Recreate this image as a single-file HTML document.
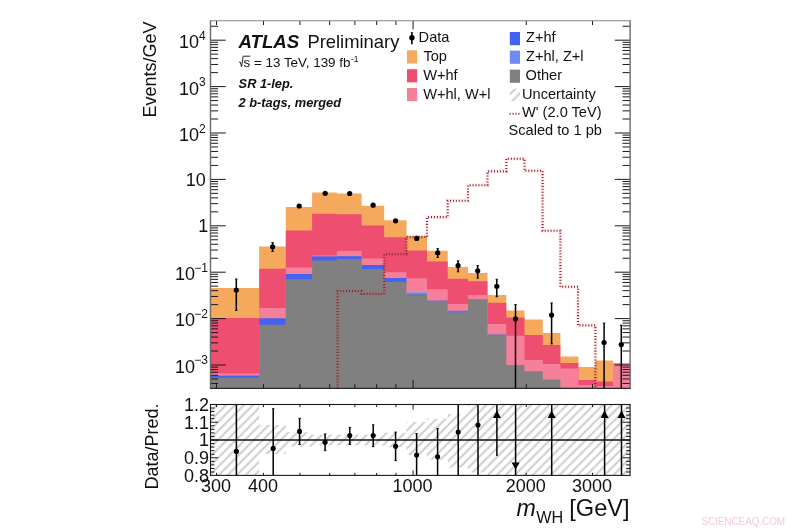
<!DOCTYPE html>
<html><head><meta charset="utf-8"><title>m_WH distribution</title>
<style>html,body{margin:0;padding:0;background:#fff;}body{width:800px;height:530px;overflow:hidden;}svg{display:block;will-change:transform;}text{font-family:"Liberation Sans",sans-serif;fill:#111;}</style></head><body>
<svg width="800" height="530" viewBox="0 0 800 530">
<rect x="0" y="0" width="800" height="530" fill="#ffffff"/>
<defs>
<pattern id="hatch" width="8.97" height="8.97" patternUnits="userSpaceOnUse" patternTransform="translate(3.2,0)"><path d="M-8.97,8.97 L8.97,-8.97 M-8.97,17.94 L17.94,-8.97 M0,17.94 L17.94,0" stroke="#c8c8c8" stroke-width="1.9" fill="none"/></pattern>
<clipPath id="clipMain"><rect x="210.5" y="20.8" width="419.6" height="367.59999999999997"/></clipPath>
<clipPath id="clipRat"><rect x="210.5" y="404.5" width="419.6" height="70.89999999999998"/></clipPath>
</defs>
<g>
<path d="M210.5,388.4 L210.5,288.0 L259.2,288.0 L259.2,246.4 L285.8,246.4 L285.8,207.0 L312.1,207.0 L312.1,192.4 L336.8,192.4 L336.8,193.5 L361.6,193.5 L361.6,205.8 L384.2,205.8 L384.2,220.3 L406.5,220.3 L406.5,236.3 L427.0,236.3 L427.0,250.8 L447.7,250.8 L447.7,266.9 L468.0,266.9 L468.0,273.1 L487.5,273.1 L487.5,294.9 L506.3,294.9 L506.3,310.4 L524.5,310.4 L524.5,319.4 L542.8,319.4 L542.8,333.0 L560.4,333.0 L560.4,356.6 L578.4,356.6 L578.4,367.0 L595.3,367.0 L595.3,360.5 L613.0,360.5 L613.0,363.6 L630.2,363.6 L630.2,388.4 Z" fill="#f4a95c"/>
<path d="M210.5,388.4 L210.5,318.1 L259.2,318.1 L259.2,268.8 L285.8,268.8 L285.8,230.6 L312.1,230.6 L312.1,213.7 L336.8,213.7 L336.8,214.2 L361.6,214.2 L361.6,225.6 L384.2,225.6 L384.2,237.3 L406.5,237.3 L406.5,250.5 L427.0,250.5 L427.0,261.4 L447.7,261.4 L447.7,278.8 L468.0,278.8 L468.0,281.2 L487.5,281.2 L487.5,302.8 L506.3,302.8 L506.3,317.4 L524.5,317.4 L524.5,335.0 L542.8,335.0 L542.8,345.0 L560.4,345.0 L560.4,363.0 L578.4,363.0 L578.4,380.0 L595.3,380.0 L595.3,381.5 L613.0,381.5 L613.0,363.6 L630.2,363.6 L630.2,388.4 Z" fill="#ee4f70"/>
<path d="M210.5,388.4 L210.5,373.6 L259.2,373.6 L259.2,307.9 L285.8,307.9 L285.8,267.5 L312.1,267.5 L312.1,255.4 L336.8,255.4 L336.8,250.9 L361.6,250.9 L361.6,258.5 L384.2,258.5 L384.2,272.2 L406.5,272.2 L406.5,278.2 L427.0,278.2 L427.0,289.2 L447.7,289.2 L447.7,304.0 L468.0,304.0 L468.0,294.9 L487.5,294.9 L487.5,324.0 L506.3,324.0 L506.3,335.7 L524.5,335.7 L524.5,360.0 L542.8,360.0 L542.8,364.0 L560.4,364.0 L560.4,368.6 L578.4,368.6 L578.4,385.0 L595.3,385.0 L595.3,386.0 L613.0,386.0 L613.0,364.6 L630.2,364.6 L630.2,388.4 Z" fill="#f6809a"/>
<rect x="210.5" y="375.6" width="48.7" height="4.2" fill="#4461ef"/>
<rect x="259.2" y="318.3" width="26.6" height="8.5" fill="#4461ef"/>
<rect x="285.8" y="274.0" width="26.3" height="7.2" fill="#4461ef"/>
<rect x="312.1" y="256.4" width="24.7" height="6.2" fill="#4461ef"/>
<rect x="336.8" y="256.2" width="24.8" height="4.9" fill="#4461ef"/>
<rect x="361.6" y="265.0" width="22.6" height="6.1" fill="#4461ef"/>
<rect x="384.2" y="278.0" width="22.3" height="5.8" fill="#4461ef"/>
<rect x="406.5" y="292.0" width="20.5" height="6" fill="#a090d8"/>
<rect x="406.5" y="293.6" width="20.5" height="4.2" fill="#6a78b4"/>
<rect x="427.0" y="300.6" width="20.7" height="2.4" fill="#4461ef"/>
<rect x="447.7" y="310.7" width="20.3" height="4.5" fill="#6a78b4"/>
<rect x="487.5" y="334.4" width="18.8" height="3.0" fill="#6a78b4"/>
<path d="M210.5,388.4 L210.5,377.8 L259.2,377.8 L259.2,324.8 L285.8,324.8 L285.8,279.2 L312.1,279.2 L312.1,260.6 L336.8,260.6 L336.8,259.1 L361.6,259.1 L361.6,269.1 L384.2,269.1 L384.2,281.8 L406.5,281.8 L406.5,295.8 L427.0,295.8 L427.0,301.0 L447.7,301.0 L447.7,313.2 L468.0,313.2 L468.0,299.2 L487.5,299.2 L487.5,335.4 L506.3,335.4 L506.3,364.9 L524.5,364.9 L524.5,371.2 L542.8,371.2 L542.8,379.4 L560.4,379.4 L560.4,388.4 L578.4,388.4 L578.4,388.4 L595.3,388.4 L595.3,388.4 L613.0,388.4 L613.0,388.4 L630.2,388.4 L630.2,388.4 Z" fill="#808080"/>
</g>
<g>
<line x1="210.50" y1="383.46" x2="218.10" y2="383.46" stroke="#1a1a1a" stroke-width="1.0" />
<line x1="630.10" y1="383.46" x2="622.50" y2="383.46" stroke="#1a1a1a" stroke-width="1.0" />
<line x1="210.50" y1="378.97" x2="218.10" y2="378.97" stroke="#1a1a1a" stroke-width="1.0" />
<line x1="630.10" y1="378.97" x2="622.50" y2="378.97" stroke="#1a1a1a" stroke-width="1.0" />
<line x1="210.50" y1="375.29" x2="218.10" y2="375.29" stroke="#1a1a1a" stroke-width="1.0" />
<line x1="630.10" y1="375.29" x2="622.50" y2="375.29" stroke="#1a1a1a" stroke-width="1.0" />
<line x1="210.50" y1="372.19" x2="218.10" y2="372.19" stroke="#1a1a1a" stroke-width="1.0" />
<line x1="630.10" y1="372.19" x2="622.50" y2="372.19" stroke="#1a1a1a" stroke-width="1.0" />
<line x1="210.50" y1="369.50" x2="218.10" y2="369.50" stroke="#1a1a1a" stroke-width="1.0" />
<line x1="630.10" y1="369.50" x2="622.50" y2="369.50" stroke="#1a1a1a" stroke-width="1.0" />
<line x1="210.50" y1="367.12" x2="218.10" y2="367.12" stroke="#1a1a1a" stroke-width="1.0" />
<line x1="630.10" y1="367.12" x2="622.50" y2="367.12" stroke="#1a1a1a" stroke-width="1.0" />
<line x1="210.50" y1="365.00" x2="225.80" y2="365.00" stroke="#1a1a1a" stroke-width="1.0" />
<line x1="630.10" y1="365.00" x2="614.80" y2="365.00" stroke="#1a1a1a" stroke-width="1.0" />
<line x1="210.50" y1="351.03" x2="218.10" y2="351.03" stroke="#1a1a1a" stroke-width="1.0" />
<line x1="630.10" y1="351.03" x2="622.50" y2="351.03" stroke="#1a1a1a" stroke-width="1.0" />
<line x1="210.50" y1="342.86" x2="218.10" y2="342.86" stroke="#1a1a1a" stroke-width="1.0" />
<line x1="630.10" y1="342.86" x2="622.50" y2="342.86" stroke="#1a1a1a" stroke-width="1.0" />
<line x1="210.50" y1="337.06" x2="218.10" y2="337.06" stroke="#1a1a1a" stroke-width="1.0" />
<line x1="630.10" y1="337.06" x2="622.50" y2="337.06" stroke="#1a1a1a" stroke-width="1.0" />
<line x1="210.50" y1="332.57" x2="218.10" y2="332.57" stroke="#1a1a1a" stroke-width="1.0" />
<line x1="630.10" y1="332.57" x2="622.50" y2="332.57" stroke="#1a1a1a" stroke-width="1.0" />
<line x1="210.50" y1="328.89" x2="218.10" y2="328.89" stroke="#1a1a1a" stroke-width="1.0" />
<line x1="630.10" y1="328.89" x2="622.50" y2="328.89" stroke="#1a1a1a" stroke-width="1.0" />
<line x1="210.50" y1="325.79" x2="218.10" y2="325.79" stroke="#1a1a1a" stroke-width="1.0" />
<line x1="630.10" y1="325.79" x2="622.50" y2="325.79" stroke="#1a1a1a" stroke-width="1.0" />
<line x1="210.50" y1="323.10" x2="218.10" y2="323.10" stroke="#1a1a1a" stroke-width="1.0" />
<line x1="630.10" y1="323.10" x2="622.50" y2="323.10" stroke="#1a1a1a" stroke-width="1.0" />
<line x1="210.50" y1="320.72" x2="218.10" y2="320.72" stroke="#1a1a1a" stroke-width="1.0" />
<line x1="630.10" y1="320.72" x2="622.50" y2="320.72" stroke="#1a1a1a" stroke-width="1.0" />
<line x1="210.50" y1="318.60" x2="225.80" y2="318.60" stroke="#1a1a1a" stroke-width="1.0" />
<line x1="630.10" y1="318.60" x2="614.80" y2="318.60" stroke="#1a1a1a" stroke-width="1.0" />
<line x1="210.50" y1="304.63" x2="218.10" y2="304.63" stroke="#1a1a1a" stroke-width="1.0" />
<line x1="630.10" y1="304.63" x2="622.50" y2="304.63" stroke="#1a1a1a" stroke-width="1.0" />
<line x1="210.50" y1="296.46" x2="218.10" y2="296.46" stroke="#1a1a1a" stroke-width="1.0" />
<line x1="630.10" y1="296.46" x2="622.50" y2="296.46" stroke="#1a1a1a" stroke-width="1.0" />
<line x1="210.50" y1="290.66" x2="218.10" y2="290.66" stroke="#1a1a1a" stroke-width="1.0" />
<line x1="630.10" y1="290.66" x2="622.50" y2="290.66" stroke="#1a1a1a" stroke-width="1.0" />
<line x1="210.50" y1="286.17" x2="218.10" y2="286.17" stroke="#1a1a1a" stroke-width="1.0" />
<line x1="630.10" y1="286.17" x2="622.50" y2="286.17" stroke="#1a1a1a" stroke-width="1.0" />
<line x1="210.50" y1="282.49" x2="218.10" y2="282.49" stroke="#1a1a1a" stroke-width="1.0" />
<line x1="630.10" y1="282.49" x2="622.50" y2="282.49" stroke="#1a1a1a" stroke-width="1.0" />
<line x1="210.50" y1="279.39" x2="218.10" y2="279.39" stroke="#1a1a1a" stroke-width="1.0" />
<line x1="630.10" y1="279.39" x2="622.50" y2="279.39" stroke="#1a1a1a" stroke-width="1.0" />
<line x1="210.50" y1="276.70" x2="218.10" y2="276.70" stroke="#1a1a1a" stroke-width="1.0" />
<line x1="630.10" y1="276.70" x2="622.50" y2="276.70" stroke="#1a1a1a" stroke-width="1.0" />
<line x1="210.50" y1="274.32" x2="218.10" y2="274.32" stroke="#1a1a1a" stroke-width="1.0" />
<line x1="630.10" y1="274.32" x2="622.50" y2="274.32" stroke="#1a1a1a" stroke-width="1.0" />
<line x1="210.50" y1="272.20" x2="225.80" y2="272.20" stroke="#1a1a1a" stroke-width="1.0" />
<line x1="630.10" y1="272.20" x2="614.80" y2="272.20" stroke="#1a1a1a" stroke-width="1.0" />
<line x1="210.50" y1="258.23" x2="218.10" y2="258.23" stroke="#1a1a1a" stroke-width="1.0" />
<line x1="630.10" y1="258.23" x2="622.50" y2="258.23" stroke="#1a1a1a" stroke-width="1.0" />
<line x1="210.50" y1="250.06" x2="218.10" y2="250.06" stroke="#1a1a1a" stroke-width="1.0" />
<line x1="630.10" y1="250.06" x2="622.50" y2="250.06" stroke="#1a1a1a" stroke-width="1.0" />
<line x1="210.50" y1="244.26" x2="218.10" y2="244.26" stroke="#1a1a1a" stroke-width="1.0" />
<line x1="630.10" y1="244.26" x2="622.50" y2="244.26" stroke="#1a1a1a" stroke-width="1.0" />
<line x1="210.50" y1="239.77" x2="218.10" y2="239.77" stroke="#1a1a1a" stroke-width="1.0" />
<line x1="630.10" y1="239.77" x2="622.50" y2="239.77" stroke="#1a1a1a" stroke-width="1.0" />
<line x1="210.50" y1="236.09" x2="218.10" y2="236.09" stroke="#1a1a1a" stroke-width="1.0" />
<line x1="630.10" y1="236.09" x2="622.50" y2="236.09" stroke="#1a1a1a" stroke-width="1.0" />
<line x1="210.50" y1="232.99" x2="218.10" y2="232.99" stroke="#1a1a1a" stroke-width="1.0" />
<line x1="630.10" y1="232.99" x2="622.50" y2="232.99" stroke="#1a1a1a" stroke-width="1.0" />
<line x1="210.50" y1="230.30" x2="218.10" y2="230.30" stroke="#1a1a1a" stroke-width="1.0" />
<line x1="630.10" y1="230.30" x2="622.50" y2="230.30" stroke="#1a1a1a" stroke-width="1.0" />
<line x1="210.50" y1="227.92" x2="218.10" y2="227.92" stroke="#1a1a1a" stroke-width="1.0" />
<line x1="630.10" y1="227.92" x2="622.50" y2="227.92" stroke="#1a1a1a" stroke-width="1.0" />
<line x1="210.50" y1="225.80" x2="225.80" y2="225.80" stroke="#1a1a1a" stroke-width="1.0" />
<line x1="630.10" y1="225.80" x2="614.80" y2="225.80" stroke="#1a1a1a" stroke-width="1.0" />
<line x1="210.50" y1="211.83" x2="218.10" y2="211.83" stroke="#1a1a1a" stroke-width="1.0" />
<line x1="630.10" y1="211.83" x2="622.50" y2="211.83" stroke="#1a1a1a" stroke-width="1.0" />
<line x1="210.50" y1="203.66" x2="218.10" y2="203.66" stroke="#1a1a1a" stroke-width="1.0" />
<line x1="630.10" y1="203.66" x2="622.50" y2="203.66" stroke="#1a1a1a" stroke-width="1.0" />
<line x1="210.50" y1="197.86" x2="218.10" y2="197.86" stroke="#1a1a1a" stroke-width="1.0" />
<line x1="630.10" y1="197.86" x2="622.50" y2="197.86" stroke="#1a1a1a" stroke-width="1.0" />
<line x1="210.50" y1="193.37" x2="218.10" y2="193.37" stroke="#1a1a1a" stroke-width="1.0" />
<line x1="630.10" y1="193.37" x2="622.50" y2="193.37" stroke="#1a1a1a" stroke-width="1.0" />
<line x1="210.50" y1="189.69" x2="218.10" y2="189.69" stroke="#1a1a1a" stroke-width="1.0" />
<line x1="630.10" y1="189.69" x2="622.50" y2="189.69" stroke="#1a1a1a" stroke-width="1.0" />
<line x1="210.50" y1="186.59" x2="218.10" y2="186.59" stroke="#1a1a1a" stroke-width="1.0" />
<line x1="630.10" y1="186.59" x2="622.50" y2="186.59" stroke="#1a1a1a" stroke-width="1.0" />
<line x1="210.50" y1="183.90" x2="218.10" y2="183.90" stroke="#1a1a1a" stroke-width="1.0" />
<line x1="630.10" y1="183.90" x2="622.50" y2="183.90" stroke="#1a1a1a" stroke-width="1.0" />
<line x1="210.50" y1="181.52" x2="218.10" y2="181.52" stroke="#1a1a1a" stroke-width="1.0" />
<line x1="630.10" y1="181.52" x2="622.50" y2="181.52" stroke="#1a1a1a" stroke-width="1.0" />
<line x1="210.50" y1="179.40" x2="225.80" y2="179.40" stroke="#1a1a1a" stroke-width="1.0" />
<line x1="630.10" y1="179.40" x2="614.80" y2="179.40" stroke="#1a1a1a" stroke-width="1.0" />
<line x1="210.50" y1="165.43" x2="218.10" y2="165.43" stroke="#1a1a1a" stroke-width="1.0" />
<line x1="630.10" y1="165.43" x2="622.50" y2="165.43" stroke="#1a1a1a" stroke-width="1.0" />
<line x1="210.50" y1="157.26" x2="218.10" y2="157.26" stroke="#1a1a1a" stroke-width="1.0" />
<line x1="630.10" y1="157.26" x2="622.50" y2="157.26" stroke="#1a1a1a" stroke-width="1.0" />
<line x1="210.50" y1="151.46" x2="218.10" y2="151.46" stroke="#1a1a1a" stroke-width="1.0" />
<line x1="630.10" y1="151.46" x2="622.50" y2="151.46" stroke="#1a1a1a" stroke-width="1.0" />
<line x1="210.50" y1="146.97" x2="218.10" y2="146.97" stroke="#1a1a1a" stroke-width="1.0" />
<line x1="630.10" y1="146.97" x2="622.50" y2="146.97" stroke="#1a1a1a" stroke-width="1.0" />
<line x1="210.50" y1="143.29" x2="218.10" y2="143.29" stroke="#1a1a1a" stroke-width="1.0" />
<line x1="630.10" y1="143.29" x2="622.50" y2="143.29" stroke="#1a1a1a" stroke-width="1.0" />
<line x1="210.50" y1="140.19" x2="218.10" y2="140.19" stroke="#1a1a1a" stroke-width="1.0" />
<line x1="630.10" y1="140.19" x2="622.50" y2="140.19" stroke="#1a1a1a" stroke-width="1.0" />
<line x1="210.50" y1="137.50" x2="218.10" y2="137.50" stroke="#1a1a1a" stroke-width="1.0" />
<line x1="630.10" y1="137.50" x2="622.50" y2="137.50" stroke="#1a1a1a" stroke-width="1.0" />
<line x1="210.50" y1="135.12" x2="218.10" y2="135.12" stroke="#1a1a1a" stroke-width="1.0" />
<line x1="630.10" y1="135.12" x2="622.50" y2="135.12" stroke="#1a1a1a" stroke-width="1.0" />
<line x1="210.50" y1="133.00" x2="225.80" y2="133.00" stroke="#1a1a1a" stroke-width="1.0" />
<line x1="630.10" y1="133.00" x2="614.80" y2="133.00" stroke="#1a1a1a" stroke-width="1.0" />
<line x1="210.50" y1="119.03" x2="218.10" y2="119.03" stroke="#1a1a1a" stroke-width="1.0" />
<line x1="630.10" y1="119.03" x2="622.50" y2="119.03" stroke="#1a1a1a" stroke-width="1.0" />
<line x1="210.50" y1="110.86" x2="218.10" y2="110.86" stroke="#1a1a1a" stroke-width="1.0" />
<line x1="630.10" y1="110.86" x2="622.50" y2="110.86" stroke="#1a1a1a" stroke-width="1.0" />
<line x1="210.50" y1="105.06" x2="218.10" y2="105.06" stroke="#1a1a1a" stroke-width="1.0" />
<line x1="630.10" y1="105.06" x2="622.50" y2="105.06" stroke="#1a1a1a" stroke-width="1.0" />
<line x1="210.50" y1="100.57" x2="218.10" y2="100.57" stroke="#1a1a1a" stroke-width="1.0" />
<line x1="630.10" y1="100.57" x2="622.50" y2="100.57" stroke="#1a1a1a" stroke-width="1.0" />
<line x1="210.50" y1="96.89" x2="218.10" y2="96.89" stroke="#1a1a1a" stroke-width="1.0" />
<line x1="630.10" y1="96.89" x2="622.50" y2="96.89" stroke="#1a1a1a" stroke-width="1.0" />
<line x1="210.50" y1="93.79" x2="218.10" y2="93.79" stroke="#1a1a1a" stroke-width="1.0" />
<line x1="630.10" y1="93.79" x2="622.50" y2="93.79" stroke="#1a1a1a" stroke-width="1.0" />
<line x1="210.50" y1="91.10" x2="218.10" y2="91.10" stroke="#1a1a1a" stroke-width="1.0" />
<line x1="630.10" y1="91.10" x2="622.50" y2="91.10" stroke="#1a1a1a" stroke-width="1.0" />
<line x1="210.50" y1="88.72" x2="218.10" y2="88.72" stroke="#1a1a1a" stroke-width="1.0" />
<line x1="630.10" y1="88.72" x2="622.50" y2="88.72" stroke="#1a1a1a" stroke-width="1.0" />
<line x1="210.50" y1="86.60" x2="225.80" y2="86.60" stroke="#1a1a1a" stroke-width="1.0" />
<line x1="630.10" y1="86.60" x2="614.80" y2="86.60" stroke="#1a1a1a" stroke-width="1.0" />
<line x1="210.50" y1="72.63" x2="218.10" y2="72.63" stroke="#1a1a1a" stroke-width="1.0" />
<line x1="630.10" y1="72.63" x2="622.50" y2="72.63" stroke="#1a1a1a" stroke-width="1.0" />
<line x1="210.50" y1="64.46" x2="218.10" y2="64.46" stroke="#1a1a1a" stroke-width="1.0" />
<line x1="630.10" y1="64.46" x2="622.50" y2="64.46" stroke="#1a1a1a" stroke-width="1.0" />
<line x1="210.50" y1="58.66" x2="218.10" y2="58.66" stroke="#1a1a1a" stroke-width="1.0" />
<line x1="630.10" y1="58.66" x2="622.50" y2="58.66" stroke="#1a1a1a" stroke-width="1.0" />
<line x1="210.50" y1="54.17" x2="218.10" y2="54.17" stroke="#1a1a1a" stroke-width="1.0" />
<line x1="630.10" y1="54.17" x2="622.50" y2="54.17" stroke="#1a1a1a" stroke-width="1.0" />
<line x1="210.50" y1="50.49" x2="218.10" y2="50.49" stroke="#1a1a1a" stroke-width="1.0" />
<line x1="630.10" y1="50.49" x2="622.50" y2="50.49" stroke="#1a1a1a" stroke-width="1.0" />
<line x1="210.50" y1="47.39" x2="218.10" y2="47.39" stroke="#1a1a1a" stroke-width="1.0" />
<line x1="630.10" y1="47.39" x2="622.50" y2="47.39" stroke="#1a1a1a" stroke-width="1.0" />
<line x1="210.50" y1="44.70" x2="218.10" y2="44.70" stroke="#1a1a1a" stroke-width="1.0" />
<line x1="630.10" y1="44.70" x2="622.50" y2="44.70" stroke="#1a1a1a" stroke-width="1.0" />
<line x1="210.50" y1="42.32" x2="218.10" y2="42.32" stroke="#1a1a1a" stroke-width="1.0" />
<line x1="630.10" y1="42.32" x2="622.50" y2="42.32" stroke="#1a1a1a" stroke-width="1.0" />
<line x1="210.50" y1="40.20" x2="225.80" y2="40.20" stroke="#1a1a1a" stroke-width="1.0" />
<line x1="630.10" y1="40.20" x2="614.80" y2="40.20" stroke="#1a1a1a" stroke-width="1.0" />
<line x1="210.50" y1="26.23" x2="218.10" y2="26.23" stroke="#1a1a1a" stroke-width="1.0" />
<line x1="630.10" y1="26.23" x2="622.50" y2="26.23" stroke="#1a1a1a" stroke-width="1.0" />
<line x1="216.50" y1="388.40" x2="216.50" y2="384.20" stroke="#1a1a1a" stroke-width="1.0" />
<line x1="216.50" y1="20.80" x2="216.50" y2="25.00" stroke="#1a1a1a" stroke-width="1.0" />
<line x1="263.47" y1="388.40" x2="263.47" y2="384.20" stroke="#1a1a1a" stroke-width="1.0" />
<line x1="263.47" y1="20.80" x2="263.47" y2="25.00" stroke="#1a1a1a" stroke-width="1.0" />
<line x1="299.91" y1="388.40" x2="299.91" y2="384.20" stroke="#1a1a1a" stroke-width="1.0" />
<line x1="299.91" y1="20.80" x2="299.91" y2="25.00" stroke="#1a1a1a" stroke-width="1.0" />
<line x1="329.68" y1="388.40" x2="329.68" y2="384.20" stroke="#1a1a1a" stroke-width="1.0" />
<line x1="329.68" y1="20.80" x2="329.68" y2="25.00" stroke="#1a1a1a" stroke-width="1.0" />
<line x1="354.86" y1="388.40" x2="354.86" y2="384.20" stroke="#1a1a1a" stroke-width="1.0" />
<line x1="354.86" y1="20.80" x2="354.86" y2="25.00" stroke="#1a1a1a" stroke-width="1.0" />
<line x1="376.66" y1="388.40" x2="376.66" y2="384.20" stroke="#1a1a1a" stroke-width="1.0" />
<line x1="376.66" y1="20.80" x2="376.66" y2="25.00" stroke="#1a1a1a" stroke-width="1.0" />
<line x1="395.90" y1="388.40" x2="395.90" y2="384.20" stroke="#1a1a1a" stroke-width="1.0" />
<line x1="395.90" y1="20.80" x2="395.90" y2="25.00" stroke="#1a1a1a" stroke-width="1.0" />
<line x1="413.10" y1="388.40" x2="413.10" y2="379.90" stroke="#1a1a1a" stroke-width="1.0" />
<line x1="413.10" y1="20.80" x2="413.10" y2="29.30" stroke="#1a1a1a" stroke-width="1.0" />
<line x1="526.29" y1="388.40" x2="526.29" y2="384.20" stroke="#1a1a1a" stroke-width="1.0" />
<line x1="526.29" y1="20.80" x2="526.29" y2="25.00" stroke="#1a1a1a" stroke-width="1.0" />
<line x1="592.50" y1="388.40" x2="592.50" y2="384.20" stroke="#1a1a1a" stroke-width="1.0" />
<line x1="592.50" y1="20.80" x2="592.50" y2="25.00" stroke="#1a1a1a" stroke-width="1.0" />
</g>
<polyline points="337.6,388.4 337.6,291.0 361.6,291.0 361.6,293.9 384.2,293.9 384.2,254.2 406.5,254.2 406.5,236.9 427.0,236.9 427.0,217.1 447.7,217.1 447.7,200.8 468.0,200.8 468.0,185.2 487.5,185.2 487.5,171.4 506.3,171.4 506.3,158.8 524.5,158.8 524.5,170.8 542.6,170.8 542.6,230.8 560.4,230.8 560.4,286.8 578.0,286.8 578.0,325.4 595.4,325.4 595.4,388.4" fill="none" stroke="#ff2a3a" stroke-opacity="0.07" stroke-width="4.5" stroke-linejoin="miter"/>
<polyline points="337.6,388.4 337.6,291.0 361.6,291.0 361.6,293.9 384.2,293.9 384.2,254.2 406.5,254.2 406.5,236.9 427.0,236.9 427.0,217.1 447.7,217.1 447.7,200.8 468.0,200.8 468.0,185.2 487.5,185.2 487.5,171.4 506.3,171.4 506.3,158.8 524.5,158.8 524.5,170.8 542.6,170.8 542.6,230.8 560.4,230.8 560.4,286.8 578.0,286.8 578.0,325.4 595.4,325.4 595.4,388.4" fill="none" stroke="#8a2830" stroke-width="2.1" stroke-dasharray="1.05 1.89" stroke-linejoin="miter"/>
<g clip-path="url(#clipMain)">
<line x1="236.30" y1="279.00" x2="236.30" y2="310.40" stroke="#000" stroke-width="1.5" />
<line x1="235.05" y1="279.00" x2="237.55" y2="279.00" stroke="#000" stroke-width="0.9" />
<line x1="235.05" y1="310.40" x2="237.55" y2="310.40" stroke="#000" stroke-width="0.9" />
<circle cx="236.3" cy="290.0" r="2.6" fill="#000"/>
<line x1="272.60" y1="242.60" x2="272.60" y2="251.40" stroke="#000" stroke-width="1.5" />
<line x1="271.35" y1="242.60" x2="273.85" y2="242.60" stroke="#000" stroke-width="0.9" />
<line x1="271.35" y1="251.40" x2="273.85" y2="251.40" stroke="#000" stroke-width="0.9" />
<circle cx="272.6" cy="246.8" r="2.6" fill="#000"/>
<circle cx="299.2" cy="206.0" r="2.6" fill="#000"/>
<circle cx="325.2" cy="193.3" r="2.6" fill="#000"/>
<circle cx="349.7" cy="193.5" r="2.6" fill="#000"/>
<circle cx="373.1" cy="205.2" r="2.6" fill="#000"/>
<circle cx="395.6" cy="220.8" r="2.6" fill="#000"/>
<circle cx="416.7" cy="238.4" r="2.6" fill="#000"/>
<line x1="437.70" y1="248.60" x2="437.70" y2="257.50" stroke="#000" stroke-width="1.5" />
<line x1="436.45" y1="248.60" x2="438.95" y2="248.60" stroke="#000" stroke-width="0.9" />
<line x1="436.45" y1="257.50" x2="438.95" y2="257.50" stroke="#000" stroke-width="0.9" />
<circle cx="437.7" cy="252.9" r="2.6" fill="#000"/>
<line x1="458.10" y1="260.80" x2="458.10" y2="271.80" stroke="#000" stroke-width="1.5" />
<line x1="456.85" y1="260.80" x2="459.35" y2="260.80" stroke="#000" stroke-width="0.9" />
<line x1="456.85" y1="271.80" x2="459.35" y2="271.80" stroke="#000" stroke-width="0.9" />
<circle cx="458.1" cy="265.6" r="2.6" fill="#000"/>
<line x1="477.70" y1="265.60" x2="477.70" y2="278.20" stroke="#000" stroke-width="1.5" />
<line x1="476.45" y1="265.60" x2="478.95" y2="265.60" stroke="#000" stroke-width="0.9" />
<line x1="476.45" y1="278.20" x2="478.95" y2="278.20" stroke="#000" stroke-width="0.9" />
<circle cx="477.7" cy="270.8" r="2.6" fill="#000"/>
<line x1="496.80" y1="279.30" x2="496.80" y2="296.70" stroke="#000" stroke-width="1.5" />
<line x1="495.55" y1="279.30" x2="498.05" y2="279.30" stroke="#000" stroke-width="0.9" />
<line x1="495.55" y1="296.70" x2="498.05" y2="296.70" stroke="#000" stroke-width="0.9" />
<circle cx="496.8" cy="286.3" r="2.6" fill="#000"/>
<line x1="515.50" y1="304.60" x2="515.50" y2="388.40" stroke="#000" stroke-width="1.5" />
<line x1="514.25" y1="304.60" x2="516.75" y2="304.60" stroke="#000" stroke-width="0.9" />
<circle cx="515.5" cy="318.8" r="2.6" fill="#000"/>
<line x1="551.60" y1="302.90" x2="551.60" y2="343.90" stroke="#000" stroke-width="1.5" />
<line x1="550.35" y1="302.90" x2="552.85" y2="302.90" stroke="#000" stroke-width="0.9" />
<line x1="550.35" y1="343.90" x2="552.85" y2="343.90" stroke="#000" stroke-width="0.9" />
<circle cx="551.6" cy="315.1" r="2.6" fill="#000"/>
<line x1="604.10" y1="323.10" x2="604.10" y2="388.40" stroke="#000" stroke-width="1.5" />
<line x1="602.85" y1="323.10" x2="605.35" y2="323.10" stroke="#000" stroke-width="0.9" />
<circle cx="604.1" cy="342.5" r="2.6" fill="#000"/>
<line x1="621.30" y1="325.20" x2="621.30" y2="388.40" stroke="#000" stroke-width="1.5" />
<line x1="620.05" y1="325.20" x2="622.55" y2="325.20" stroke="#000" stroke-width="0.9" />
<circle cx="621.3" cy="344.5" r="2.6" fill="#000"/>
</g>
<line x1="210.00" y1="20.80" x2="630.60" y2="20.80" stroke="#858585" stroke-width="1.1" />
<line x1="210.50" y1="20.80" x2="210.50" y2="388.40" stroke="#6a6a6a" stroke-width="1.4" />
<line x1="630.10" y1="20.80" x2="630.10" y2="388.40" stroke="#6a6a6a" stroke-width="1.4" />
<line x1="210.00" y1="388.40" x2="630.60" y2="388.40" stroke="#2a2a2a" stroke-width="1.1" />
<g clip-path="url(#clipRat)">
<rect x="210.5" y="404.5" width="48.7" height="70.9" fill="url(#hatch)"/>
<rect x="259.2" y="424.8" width="26.6" height="29.2" fill="url(#hatch)"/>
<rect x="285.8" y="432.2" width="26.3" height="14.4" fill="url(#hatch)"/>
<rect x="312.1" y="434.6" width="24.7" height="10.8" fill="url(#hatch)"/>
<rect x="336.8" y="434.6" width="24.8" height="10.8" fill="url(#hatch)"/>
<rect x="361.6" y="434.6" width="22.6" height="10.8" fill="url(#hatch)"/>
<rect x="384.2" y="432.8" width="22.3" height="14.4" fill="url(#hatch)"/>
<rect x="406.5" y="422.0" width="20.5" height="33.0" fill="url(#hatch)"/>
<rect x="427.0" y="418.6" width="20.7" height="41.2" fill="url(#hatch)"/>
<rect x="447.7" y="413.9" width="20.3" height="53.8" fill="url(#hatch)"/>
<rect x="468.0" y="404.5" width="19.5" height="68.0" fill="url(#hatch)"/>
<rect x="487.5" y="404.5" width="18.8" height="70.9" fill="url(#hatch)"/>
<rect x="506.3" y="404.5" width="18.2" height="70.9" fill="url(#hatch)"/>
<rect x="524.5" y="404.5" width="18.3" height="70.9" fill="url(#hatch)"/>
<rect x="542.8" y="404.5" width="17.6" height="70.9" fill="url(#hatch)"/>
<rect x="560.4" y="404.5" width="18.0" height="70.9" fill="url(#hatch)"/>
<rect x="578.4" y="404.5" width="16.9" height="70.9" fill="url(#hatch)"/>
<rect x="595.3" y="404.5" width="17.7" height="70.9" fill="url(#hatch)"/>
<rect x="613.0" y="404.5" width="17.2" height="70.9" fill="url(#hatch)"/>
</g>
<line x1="210.50" y1="440.00" x2="630.10" y2="440.00" stroke="#111" stroke-width="1.4" />
<line x1="210.50" y1="472.00" x2="214.50" y2="472.00" stroke="#1a1a1a" stroke-width="1.0" />
<line x1="630.10" y1="472.00" x2="626.10" y2="472.00" stroke="#1a1a1a" stroke-width="1.0" />
<line x1="210.50" y1="468.44" x2="214.50" y2="468.44" stroke="#1a1a1a" stroke-width="1.0" />
<line x1="630.10" y1="468.44" x2="626.10" y2="468.44" stroke="#1a1a1a" stroke-width="1.0" />
<line x1="210.50" y1="464.88" x2="214.50" y2="464.88" stroke="#1a1a1a" stroke-width="1.0" />
<line x1="630.10" y1="464.88" x2="626.10" y2="464.88" stroke="#1a1a1a" stroke-width="1.0" />
<line x1="210.50" y1="461.33" x2="214.50" y2="461.33" stroke="#1a1a1a" stroke-width="1.0" />
<line x1="630.10" y1="461.33" x2="626.10" y2="461.33" stroke="#1a1a1a" stroke-width="1.0" />
<line x1="210.50" y1="457.77" x2="218.10" y2="457.77" stroke="#1a1a1a" stroke-width="1.0" />
<line x1="630.10" y1="457.77" x2="622.50" y2="457.77" stroke="#1a1a1a" stroke-width="1.0" />
<line x1="210.50" y1="454.22" x2="214.50" y2="454.22" stroke="#1a1a1a" stroke-width="1.0" />
<line x1="630.10" y1="454.22" x2="626.10" y2="454.22" stroke="#1a1a1a" stroke-width="1.0" />
<line x1="210.50" y1="450.66" x2="214.50" y2="450.66" stroke="#1a1a1a" stroke-width="1.0" />
<line x1="630.10" y1="450.66" x2="626.10" y2="450.66" stroke="#1a1a1a" stroke-width="1.0" />
<line x1="210.50" y1="447.11" x2="214.50" y2="447.11" stroke="#1a1a1a" stroke-width="1.0" />
<line x1="630.10" y1="447.11" x2="626.10" y2="447.11" stroke="#1a1a1a" stroke-width="1.0" />
<line x1="210.50" y1="443.56" x2="214.50" y2="443.56" stroke="#1a1a1a" stroke-width="1.0" />
<line x1="630.10" y1="443.56" x2="626.10" y2="443.56" stroke="#1a1a1a" stroke-width="1.0" />
<line x1="210.50" y1="440.00" x2="218.10" y2="440.00" stroke="#1a1a1a" stroke-width="1.0" />
<line x1="630.10" y1="440.00" x2="622.50" y2="440.00" stroke="#1a1a1a" stroke-width="1.0" />
<line x1="210.50" y1="436.44" x2="214.50" y2="436.44" stroke="#1a1a1a" stroke-width="1.0" />
<line x1="630.10" y1="436.44" x2="626.10" y2="436.44" stroke="#1a1a1a" stroke-width="1.0" />
<line x1="210.50" y1="432.89" x2="214.50" y2="432.89" stroke="#1a1a1a" stroke-width="1.0" />
<line x1="630.10" y1="432.89" x2="626.10" y2="432.89" stroke="#1a1a1a" stroke-width="1.0" />
<line x1="210.50" y1="429.33" x2="214.50" y2="429.33" stroke="#1a1a1a" stroke-width="1.0" />
<line x1="630.10" y1="429.33" x2="626.10" y2="429.33" stroke="#1a1a1a" stroke-width="1.0" />
<line x1="210.50" y1="425.78" x2="214.50" y2="425.78" stroke="#1a1a1a" stroke-width="1.0" />
<line x1="630.10" y1="425.78" x2="626.10" y2="425.78" stroke="#1a1a1a" stroke-width="1.0" />
<line x1="210.50" y1="422.22" x2="218.10" y2="422.22" stroke="#1a1a1a" stroke-width="1.0" />
<line x1="630.10" y1="422.22" x2="622.50" y2="422.22" stroke="#1a1a1a" stroke-width="1.0" />
<line x1="210.50" y1="418.67" x2="214.50" y2="418.67" stroke="#1a1a1a" stroke-width="1.0" />
<line x1="630.10" y1="418.67" x2="626.10" y2="418.67" stroke="#1a1a1a" stroke-width="1.0" />
<line x1="210.50" y1="415.11" x2="214.50" y2="415.11" stroke="#1a1a1a" stroke-width="1.0" />
<line x1="630.10" y1="415.11" x2="626.10" y2="415.11" stroke="#1a1a1a" stroke-width="1.0" />
<line x1="210.50" y1="411.56" x2="214.50" y2="411.56" stroke="#1a1a1a" stroke-width="1.0" />
<line x1="630.10" y1="411.56" x2="626.10" y2="411.56" stroke="#1a1a1a" stroke-width="1.0" />
<line x1="210.50" y1="408.00" x2="214.50" y2="408.00" stroke="#1a1a1a" stroke-width="1.0" />
<line x1="630.10" y1="408.00" x2="626.10" y2="408.00" stroke="#1a1a1a" stroke-width="1.0" />
<line x1="216.50" y1="475.40" x2="216.50" y2="472.90" stroke="#1a1a1a" stroke-width="1.0" />
<line x1="216.50" y1="404.50" x2="216.50" y2="407.00" stroke="#1a1a1a" stroke-width="1.0" />
<line x1="263.47" y1="475.40" x2="263.47" y2="472.90" stroke="#1a1a1a" stroke-width="1.0" />
<line x1="263.47" y1="404.50" x2="263.47" y2="407.00" stroke="#1a1a1a" stroke-width="1.0" />
<line x1="299.91" y1="475.40" x2="299.91" y2="472.90" stroke="#1a1a1a" stroke-width="1.0" />
<line x1="299.91" y1="404.50" x2="299.91" y2="407.00" stroke="#1a1a1a" stroke-width="1.0" />
<line x1="329.68" y1="475.40" x2="329.68" y2="472.90" stroke="#1a1a1a" stroke-width="1.0" />
<line x1="329.68" y1="404.50" x2="329.68" y2="407.00" stroke="#1a1a1a" stroke-width="1.0" />
<line x1="354.86" y1="475.40" x2="354.86" y2="472.90" stroke="#1a1a1a" stroke-width="1.0" />
<line x1="354.86" y1="404.50" x2="354.86" y2="407.00" stroke="#1a1a1a" stroke-width="1.0" />
<line x1="376.66" y1="475.40" x2="376.66" y2="472.90" stroke="#1a1a1a" stroke-width="1.0" />
<line x1="376.66" y1="404.50" x2="376.66" y2="407.00" stroke="#1a1a1a" stroke-width="1.0" />
<line x1="395.90" y1="475.40" x2="395.90" y2="472.90" stroke="#1a1a1a" stroke-width="1.0" />
<line x1="395.90" y1="404.50" x2="395.90" y2="407.00" stroke="#1a1a1a" stroke-width="1.0" />
<line x1="413.10" y1="475.40" x2="413.10" y2="470.40" stroke="#1a1a1a" stroke-width="1.0" />
<line x1="413.10" y1="404.50" x2="413.10" y2="409.50" stroke="#1a1a1a" stroke-width="1.0" />
<line x1="526.29" y1="475.40" x2="526.29" y2="472.90" stroke="#1a1a1a" stroke-width="1.0" />
<line x1="526.29" y1="404.50" x2="526.29" y2="407.00" stroke="#1a1a1a" stroke-width="1.0" />
<line x1="592.50" y1="475.40" x2="592.50" y2="472.90" stroke="#1a1a1a" stroke-width="1.0" />
<line x1="592.50" y1="404.50" x2="592.50" y2="407.00" stroke="#1a1a1a" stroke-width="1.0" />
<g clip-path="url(#clipRat)">
<line x1="236.40" y1="404.50" x2="236.40" y2="475.40" stroke="#000" stroke-width="1.5" />
<circle cx="236.4" cy="451.4" r="2.55" fill="#000"/>
<line x1="273.20" y1="408.70" x2="273.20" y2="475.40" stroke="#000" stroke-width="1.5" />
<line x1="271.95" y1="408.70" x2="274.45" y2="408.70" stroke="#000" stroke-width="0.9" />
<circle cx="273.2" cy="448.4" r="2.55" fill="#000"/>
<line x1="299.60" y1="418.30" x2="299.60" y2="444.50" stroke="#000" stroke-width="1.5" />
<line x1="298.35" y1="418.30" x2="300.85" y2="418.30" stroke="#000" stroke-width="0.9" />
<line x1="298.35" y1="444.50" x2="300.85" y2="444.50" stroke="#000" stroke-width="0.9" />
<circle cx="299.6" cy="431.4" r="2.55" fill="#000"/>
<line x1="325.10" y1="433.90" x2="325.10" y2="450.70" stroke="#000" stroke-width="1.5" />
<line x1="323.85" y1="433.90" x2="326.35" y2="433.90" stroke="#000" stroke-width="0.9" />
<line x1="323.85" y1="450.70" x2="326.35" y2="450.70" stroke="#000" stroke-width="0.9" />
<circle cx="325.1" cy="442.3" r="2.55" fill="#000"/>
<line x1="349.80" y1="427.40" x2="349.80" y2="444.50" stroke="#000" stroke-width="1.5" />
<line x1="348.55" y1="427.40" x2="351.05" y2="427.40" stroke="#000" stroke-width="0.9" />
<line x1="348.55" y1="444.50" x2="351.05" y2="444.50" stroke="#000" stroke-width="0.9" />
<circle cx="349.8" cy="435.6" r="2.55" fill="#000"/>
<line x1="373.20" y1="424.80" x2="373.20" y2="446.60" stroke="#000" stroke-width="1.5" />
<line x1="371.95" y1="424.80" x2="374.45" y2="424.80" stroke="#000" stroke-width="0.9" />
<line x1="371.95" y1="446.60" x2="374.45" y2="446.60" stroke="#000" stroke-width="0.9" />
<circle cx="373.2" cy="435.6" r="2.55" fill="#000"/>
<line x1="395.60" y1="432.10" x2="395.60" y2="460.60" stroke="#000" stroke-width="1.5" />
<line x1="394.35" y1="432.10" x2="396.85" y2="432.10" stroke="#000" stroke-width="0.9" />
<line x1="394.35" y1="460.60" x2="396.85" y2="460.60" stroke="#000" stroke-width="0.9" />
<circle cx="395.6" cy="446.3" r="2.55" fill="#000"/>
<line x1="416.60" y1="433.50" x2="416.60" y2="475.40" stroke="#000" stroke-width="1.5" />
<line x1="415.35" y1="433.50" x2="417.85" y2="433.50" stroke="#000" stroke-width="0.9" />
<circle cx="416.6" cy="455.0" r="2.55" fill="#000"/>
<line x1="437.60" y1="428.60" x2="437.60" y2="475.40" stroke="#000" stroke-width="1.5" />
<line x1="436.35" y1="428.60" x2="438.85" y2="428.60" stroke="#000" stroke-width="0.9" />
<circle cx="437.6" cy="456.8" r="2.55" fill="#000"/>
<line x1="458.20" y1="404.50" x2="458.20" y2="475.40" stroke="#000" stroke-width="1.5" />
<circle cx="458.2" cy="432.1" r="2.55" fill="#000"/>
<line x1="478.00" y1="404.50" x2="478.00" y2="475.40" stroke="#000" stroke-width="1.5" />
<circle cx="478.0" cy="425.1" r="2.55" fill="#000"/>
<line x1="496.90" y1="404.50" x2="496.90" y2="455.90" stroke="#000" stroke-width="1.5" />
<path d="M496.9,410.6 L500.9,417.9 L492.9,417.9 Z" fill="#000"/>
<line x1="515.60" y1="404.50" x2="515.60" y2="475.40" stroke="#000" stroke-width="1.5" />
<path d="M515.6,469.6 L519.6,462.4 L511.6,462.4 Z" fill="#000"/>
<line x1="551.70" y1="404.50" x2="551.70" y2="475.40" stroke="#000" stroke-width="1.5" />
<path d="M551.7,410.6 L555.7,417.9 L547.7,417.9 Z" fill="#000"/>
<line x1="604.60" y1="404.50" x2="604.60" y2="475.40" stroke="#000" stroke-width="1.5" />
<path d="M604.6,410.6 L608.6,417.9 L600.6,417.9 Z" fill="#000"/>
<line x1="621.50" y1="404.50" x2="621.50" y2="475.40" stroke="#000" stroke-width="1.5" />
<path d="M621.5,410.6 L625.5,417.9 L617.5,417.9 Z" fill="#000"/>
</g>
<rect x="210.5" y="404.5" width="419.6" height="70.9" fill="none" stroke="#1a1a1a" stroke-width="1.1"/>
<text x="195.0" y="372.6" font-size="18" text-anchor="end">10</text>
<text x="194.2" y="364.4" font-size="12">−3</text>
<text x="195.0" y="326.2" font-size="18" text-anchor="end">10</text>
<text x="194.2" y="318.0" font-size="12">−2</text>
<text x="195.0" y="279.8" font-size="18" text-anchor="end">10</text>
<text x="194.2" y="271.6" font-size="12">−1</text>
<text x="208.2" y="232.1" font-size="18" text-anchor="end">1</text>
<text x="205.7" y="185.7" font-size="18" text-anchor="end">10</text>
<text x="199.0" y="140.9" font-size="18" text-anchor="end">10</text>
<text x="199.0" y="132.5" font-size="12">2</text>
<text x="199.0" y="94.5" font-size="18" text-anchor="end">10</text>
<text x="199.0" y="86.1" font-size="12">3</text>
<text x="199.0" y="48.1" font-size="18" text-anchor="end">10</text>
<text x="199.0" y="39.7" font-size="12">4</text>
<text x="209.0" y="410.8" font-size="18" text-anchor="end">1.2</text>
<text x="209.0" y="428.6" font-size="18" text-anchor="end">1.1</text>
<text x="209.0" y="446.4" font-size="18" text-anchor="end">1</text>
<text x="209.0" y="464.2" font-size="18" text-anchor="end">0.9</text>
<text x="209.0" y="481.9" font-size="18" text-anchor="end">0.8</text>
<text x="215.9" y="491.9" font-size="18" text-anchor="middle">300</text>
<text x="262.9" y="491.9" font-size="18" text-anchor="middle">400</text>
<text x="412.5" y="491.9" font-size="18" text-anchor="middle">1000</text>
<text x="525.7" y="491.9" font-size="18" text-anchor="middle">2000</text>
<text x="591.9" y="491.9" font-size="18" text-anchor="middle">3000</text>
<text transform="translate(156.4,117.6) rotate(-90)" font-size="18">Events/GeV</text>
<text transform="translate(157.6,489.6) rotate(-90)" font-size="18">Data/Pred.</text>
<text x="516.6" y="515.5" font-size="23.2" font-style="italic">m</text>
<text x="536.2" y="523.2" font-size="16.2">WH</text>
<text x="569.3" y="515.5" font-size="23.6">[GeV]</text>
<text x="238.4" y="48.2" font-size="18.7" font-weight="bold" font-style="italic">ATLAS</text>
<text x="307.4" y="48.2" font-size="18.4">Preliminary</text>
<path d="M239.2,62.4 L240.2,61.9 L241.6,66.6 L243.2,56.2 L250.2,56.2" fill="none" stroke="#111" stroke-width="0.9"/>
<text x="243.6" y="66.6" font-size="13.4">s = 13 TeV, 139 fb</text>
<text x="351.0" y="62.3" font-size="8.5">-1</text>
<text x="238.6" y="87.6" font-size="12.8" font-weight="bold" font-style="italic">SR 1-lep.</text>
<text x="238.6" y="106.8" font-size="12.8" font-weight="bold" font-style="italic">2 b-tags, merged</text>
<line x1="411.90" y1="31.90" x2="411.90" y2="44.30" stroke="#000" stroke-width="1.6" />
<circle cx="411.9" cy="37.8" r="2.7" fill="#000"/>
<text x="418.6" y="42.4" font-size="14.6">Data</text>
<rect x="407.0" y="50.3" width="10.2" height="13.2" fill="#f4a95c"/>
<text x="423.4" y="60.8" font-size="14.6">Top</text>
<rect x="407.0" y="69.2" width="10.2" height="13.2" fill="#ee4f70"/>
<text x="423.2" y="79.5" font-size="14.6">W+hf</text>
<rect x="407.0" y="88.0" width="10.2" height="13.2" fill="#f6809a"/>
<text x="423.2" y="98.7" font-size="14.6">W+hl, W+l</text>
<rect x="509.8" y="32.0" width="10.2" height="13.2" fill="#4461ef"/>
<text x="526.0" y="42.2" font-size="14.6">Z+hf</text>
<rect x="509.8" y="50.6" width="10.2" height="13.2" fill="#6f8af4"/>
<text x="526.0" y="61.0" font-size="14.6">Z+hl, Z+l</text>
<rect x="509.8" y="69.6" width="10.2" height="13.2" fill="#808080"/>
<text x="525.6" y="80.1" font-size="14.6">Other</text>
<rect x="509.8" y="88.6" width="10.2" height="12.6" fill="url(#hatch)"/>
<text x="522.0" y="99.0" font-size="14.6">Uncertainty</text>
<line x1="509.6" y1="113.8" x2="520.4" y2="113.8" stroke="#8a2830" stroke-width="2.0" stroke-dasharray="1.05 1.89"/>
<text x="522.0" y="117.4" font-size="14.6">W' (2.0 TeV)</text>
<text x="508.6" y="134.8" font-size="14.6">Scaled to 1 pb</text>
<text x="701.4" y="524.7" font-size="10" style="fill:#f1ccd1" textLength="83.8" lengthAdjust="spacing">SCIENCEAQ.COM</text>
</svg></body></html>
